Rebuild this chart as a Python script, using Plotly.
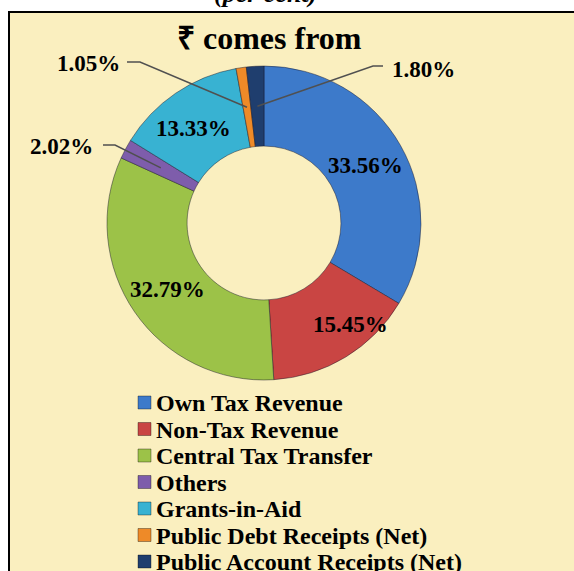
import math
import plotly.graph_objects as go

W, H = 574, 571

categories = ["Own Tax Revenue", "Non-Tax Revenue", "Central Tax Transfer", "Others",
              "Grants-in-Aid", "Public Debt Receipts (Net)", "Public Account Receipts (Net)"]
values = [33.56, 15.45, 32.79, 2.02, 13.33, 1.05, 1.80]
value_labels = ["33.56%", "15.45%", "32.79%", "2.02%", "13.33%", "1.05%", "1.80%"]
colors = ["#3D7ACA", "#C94543", "#9CC248", "#7E5DAB", "#38B2D2", "#EE8A28", "#1F3E6E"]

BG = "#FAEFBF"
FONT = "Liberation Serif"

# pie geometry in pixels
CX, CY, R = 264, 223, 157
HOLE = 0.49


def px(x):
    return x / W


def py(y):
    return 1 - y / H


fig = go.Figure()
fig.add_trace(go.Pie(
    labels=categories, values=values, sort=False, direction="clockwise", rotation=0,
    hole=HOLE, textinfo="none", hoverinfo="label+percent", showlegend=False,
    marker=dict(colors=colors, line=dict(color="rgba(20,20,40,0.45)", width=1)),
    domain=dict(x=[px(CX - R), px(CX + R)], y=[py(CY + R), py(CY - R)]),
))

# positions of slice mid-points on the middle of the ring
total = sum(values)
mid_r = R * (1 + HOLE) / 2
cum = 0
mids = []
for v in values:
    a = (cum + v / 2) / total * 2 * math.pi
    mids.append((CX + mid_r * math.sin(a), CY - mid_r * math.cos(a)))
    cum += v

annotations = []
shapes = []

# frame
shapes.append(dict(type="rect", xref="paper", yref="paper", x0=px(9), x1=1.2,
                   y0=-0.2, y1=py(12), line=dict(color="black", width=2),
                   fillcolor=BG, layer="below"))

LABEL_FONT = dict(family=FONT, size=23, color="black", weight="bold")

inside = {0: (0, 0), 1: (26, 2), 2: (0, 0), 4: (-5, 2)}
for i, (dx, dy) in inside.items():
    x, y = mids[i]
    annotations.append(dict(x=px(x + dx), y=py(y + dy), xref="paper", yref="paper",
                            xanchor="center", yanchor="middle",
                            text=value_labels[i], showarrow=False, font=LABEL_FONT))

# outside labels with leader lines: (label centre, elbow point, line start)
outside = {3: ((61, 146), (115, 145), (103, 145)),
           5: ((88, 63), (140, 62), (127, 62)),
           6: ((423, 69), (373, 66), (383, 66))}
for i, (lab, elbow, start) in outside.items():
    x, y = mids[i]
    annotations.append(dict(x=px(lab[0]), y=py(lab[1]), xref="paper", yref="paper",
                            xanchor="center", yanchor="middle",
                            text=value_labels[i], showarrow=False, font=LABEL_FONT))
    path = f"M{px(start[0])},{py(start[1])} L{px(elbow[0])},{py(elbow[1])} L{px(x)},{py(y)}"
    shapes.append(dict(type="path", xref="paper", yref="paper", path=path,
                       line=dict(color="#505050", width=1.5)))

# legend (drawn by hand so it can run off the bottom edge like the reference)
LEG_X, LEG_Y0, LEG_DY = 138, 403, 26.5
for i, (cat, col) in enumerate(zip(categories, colors)):
    yc = LEG_Y0 + i * LEG_DY
    shapes.append(dict(type="rect", xref="paper", yref="paper",
                       x0=px(LEG_X), x1=px(LEG_X + 13), y0=py(yc + 6), y1=py(yc - 7),
                       fillcolor=col, line=dict(color="rgba(0,0,0,0.35)", width=1)))
    annotations.append(dict(x=px(LEG_X + 16), y=py(yc), xref="paper", yref="paper",
                            xanchor="left", yanchor="middle", text=cat, showarrow=False,
                            font=dict(family=FONT, size=24, color="black", weight="bold")))

# title and cut-off subtitle
annotations.append(dict(x=px(269), y=py(38), xref="paper", yref="paper",
                        xanchor="center", yanchor="middle",
                        text="₹ comes from", showarrow=False,
                        font=dict(family=FONT, size=32, color="black", weight="bold")))
annotations.append(dict(x=px(265), y=py(-6), xref="paper", yref="paper",
                        xanchor="center", yanchor="middle",
                        text="(per cent)", showarrow=False,
                        font=dict(family=FONT, size=26, color="black", weight="bold",
                                  style="italic")))

fig.update_layout(
    width=W, height=H, margin=dict(l=0, r=0, t=0, b=0, autoexpand=False),
    paper_bgcolor="white", plot_bgcolor="white",
    showlegend=False,
    annotations=annotations, shapes=shapes,
)

fig.write_html("out.html", config={"displayModeBar": False},
               post_script="document.body.style.margin='0';document.body.style.overflow='hidden';")
